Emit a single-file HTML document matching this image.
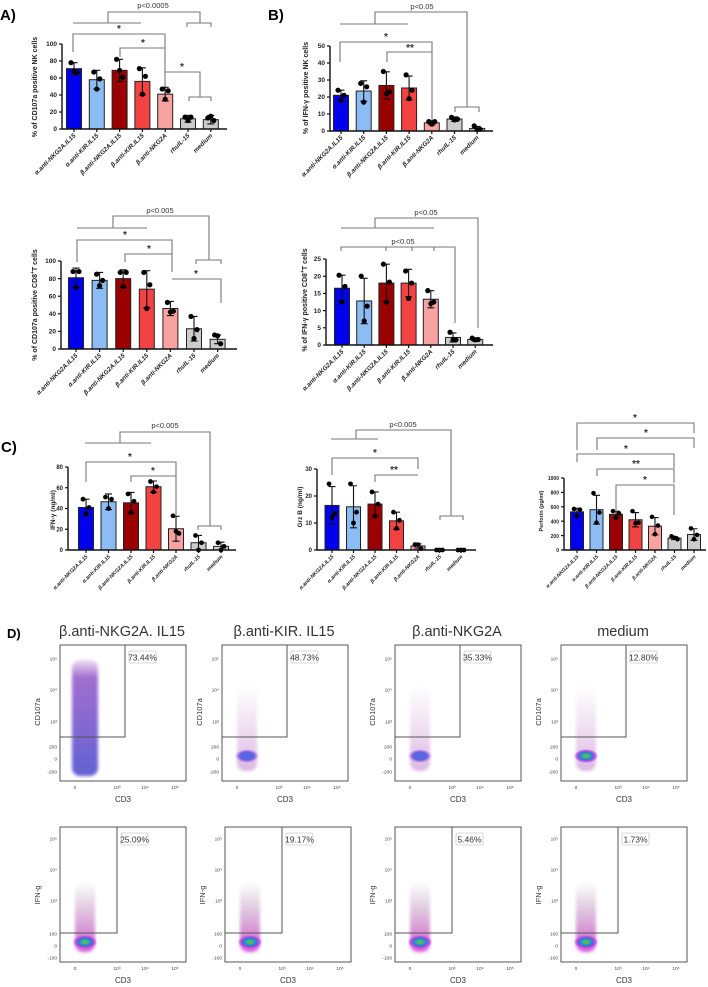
<!DOCTYPE html>
<html><head><meta charset="utf-8">
<style>
html,body{margin:0;padding:0;background:#fff;}
svg{display:block;font-family:"Liberation Sans",Arial,sans-serif;}
</style></head>
<body>
<svg id="fig" width="708" height="987" viewBox="0 0 708 987" xmlns="http://www.w3.org/2000/svg">
<defs>
<radialGradient id="core" cx="50%" cy="50%" r="50%">
<stop offset="0%" stop-color="#c8a000"/><stop offset="25%" stop-color="#20c090"/><stop offset="55%" stop-color="#3a6ee0"/><stop offset="80%" stop-color="#c040e0" stop-opacity="0.8"/><stop offset="100%" stop-color="#c040e0" stop-opacity="0"/>
</radialGradient>
<radialGradient id="coreB" cx="50%" cy="50%" r="50%">
<stop offset="0%" stop-color="#4070e0"/><stop offset="60%" stop-color="#6a60e0"/><stop offset="100%" stop-color="#c060e0" stop-opacity="0"/>
</radialGradient>
<linearGradient id="colStrong" x1="0" y1="0" x2="0" y2="1">
<stop offset="0%" stop-color="#a050c0" stop-opacity="0.2"/><stop offset="15%" stop-color="#8040c0" stop-opacity="0.75"/><stop offset="100%" stop-color="#5050d0" stop-opacity="0.9"/>
</linearGradient>
<linearGradient id="colFaint" x1="0" y1="0" x2="0" y2="1">
<stop offset="0%" stop-color="#c080c0" stop-opacity="0"/><stop offset="100%" stop-color="#b060c0" stop-opacity="0.45"/>
</linearGradient>
<linearGradient id="colMag" x1="0" y1="0" x2="0" y2="1">
<stop offset="0%" stop-color="#806080" stop-opacity="0"/><stop offset="100%" stop-color="#d030d0" stop-opacity="0.8"/>
</linearGradient>
<filter id="blur"><feGaussianBlur stdDeviation="1.5"/></filter>
</defs>
<rect x="0" y="0" width="708" height="987" fill="#fff"/>
<g font-weight="bold" font-size="15" fill="#000">
<text x="0" y="20">A)</text>
<text x="268" y="20">B)</text>
<text x="1" y="452">C)</text>
<text x="7" y="638" font-size="13">D)</text>
</g>
<g id="brackets" stroke="#777" stroke-width="1.1" fill="none">
<!-- A1 -->
<polyline points="73,23 141,23"/><polyline points="108,23 108,12 200,12 200,23"/><polyline points="187,27 187,23 211,23 211,27"/>
<polyline points="73,52 73,34 165,34 165,99"/><polyline points="120,57 120,48 165,48"/>
<polyline points="165,72 200,72 200,97"/><polyline points="189,101 189,97 211,97 211,101"/>
<!-- A2 -->
<polyline points="77,228 147,228"/><polyline points="113,228 113,216 209,216 209,260"/><polyline points="196,264 196,260 221,260 221,264"/>
<polyline points="77,262 77,240 172,240 172,272"/><polyline points="125,262 125,254 172,254"/>
<polyline points="172,279 221,279 221,303"/>
<!-- B1 -->
<polyline points="340,24 408,24"/><polyline points="375,24 375,12 467,12 467,107"/><polyline points="455,112 455,107 479,107 479,112"/>
<polyline points="340,62 340,42 432,42 432,121"/><polyline points="387,62 387,52 432,52"/>
<!-- B2 -->
<polyline points="341,228 434,228"/><polyline points="375,228 375,218 478,218 478,328"/>
<polyline points="341,251 341,247 455,247 455,323"/><polyline points="386,251 386,247"/><polyline points="412,251 412,247"/><polyline points="434,251 434,247"/>
<!-- C1 -->
<polyline points="85,443 151,443"/><polyline points="120,443 120,432 210,432 210,526"/><polyline points="198,530 198,526 221,526 221,530"/>
<polyline points="86,482 86,462 176,462 176,515"/><polyline points="131,482 131,476 176,476"/>
<!-- C2 -->
<polyline points="331,439 378,439"/><polyline points="356,439 356,430 451,430 451,516"/><polyline points="440,520 440,516 463,516 463,520"/>
<polyline points="332,475 332,458 418,458 418,469"/><polyline points="375,482 375,475 418,475"/>
<!-- C3 -->
<polyline points="577,450 577,423 694,423 694,433"/>
<polyline points="597,450 597,438 694,438 694,448"/>
<polyline points="577,462 577,454 674,454 674,468"/>
<polyline points="597,476 597,469 674,469 674,483"/>
<polyline points="616,510 616,485 674,485 674,515"/>
</g>
<g font-size="7.5" fill="#333" text-anchor="middle">
<text x="153" y="8">p&lt;0.0005</text><text x="119" y="32" font-size="10" font-weight="bold">*</text><text x="143" y="46" font-size="10" font-weight="bold">*</text><text x="182" y="70" font-size="10" font-weight="bold">*</text>
<text x="160" y="213">p&lt;0.005</text><text x="125" y="238" font-size="10" font-weight="bold">*</text><text x="149" y="252" font-size="10" font-weight="bold">*</text><text x="196" y="277" font-size="10" font-weight="bold">*</text>
<text x="422" y="9">p&lt;0.05</text><text x="386" y="40" font-size="10" font-weight="bold">*</text><text x="410" y="51" font-size="10" font-weight="bold">**</text>
<text x="426" y="215">p&lt;0.05</text><text x="403" y="244">p&lt;0.05</text>
<text x="165" y="428">p&lt;0.005</text><text x="130" y="460" font-size="10" font-weight="bold">*</text><text x="153" y="474" font-size="10" font-weight="bold">*</text>
<text x="403" y="427">p&lt;0.005</text><text x="375" y="456" font-size="10" font-weight="bold">*</text><text x="394" y="473" font-size="10" font-weight="bold">**</text>
<text x="635" y="421" font-size="10" font-weight="bold">*</text><text x="646" y="436" font-size="10" font-weight="bold">*</text><text x="626" y="452" font-size="10" font-weight="bold">*</text><text x="636" y="467" font-size="10" font-weight="bold">**</text><text x="645" y="483" font-size="10" font-weight="bold">*</text>
</g>
<g id="charts"></g>
<g id="flow"></g>
</svg>
<script>
// ---------- DATA ----------
const categories = ["α.anti-NKG2A.IL15","α.anti-KIR.IL15","β.anti-NKG2A.IL15","β.anti-KIR.IL15","β.anti-NKG2A","rhuIL-15","medium"];
const barColors = ["#0000ee","#8cbcf4","#9a0000","#f24242","#f8a2a2","#cccccc","#cccccc"];

const a1Values = [71,58,69,56,41,12,11];
const a1Err = [7,11,13,16,8,4,5];
const a1Dots = [[78,66,68],[67,59,47],[82,61,69],[71,62,41],[47,45,35],[14,14,10],[13,10,15]];
const a1Ticks = [0,20,40,60,80,100];

const a2Values = [81,78,80,68,46,23,11];
const a2Err = [11,9,10,21,8,14,5];
const a2Dots = [[88,88,70],[85,78,72],[87,87,71],[87,73,46],[53,43,42],[37,22,12],[16,6,15]];
const a2Ticks = [0,20,40,60,80,100];

const b1Values = [21,23.5,26.8,25.3,4.8,7,1.5];
const b1Err = [3,6,8,7,1.2,1.3,1.2];
const b1Dots = [[24,21,18],[28,26,17],[35,23,22],[33,24,19],[5.5,5.5,4],[8,7,6.5],[3,1,0.8]];
const b1Ticks = [0,10,20,30,40,50];

const b2Values = [16.5,12.8,18,18,13.3,2.2,1.6];
const b2Err = [3.8,6.6,5.5,4,2.5,1.3,0.5];
const b2Dots = [[20.3,17,12.5],[20,11.3,7],[23.5,18.3,12.5],[21.5,18,13.5],[15.8,12.5,12],[3.7,1.5,1.5],[2,1.6,1.5]];
const b2Ticks = [0,5,10,15,20,25];

const c1Values = [41,46.5,45.5,61,20.5,7,3.5];
const c1Err = [8,7.5,10,5.5,12,7,4];
const c1Dots = [[49,41,35],[51,49,40],[54,47,36],[66,61,56],[33,16,18],[14,7,0],[7,3.5,0]];
const c1Ticks = [0,20,40,60,80];

const c2Values = [16.5,16,17,10.8,1.5,0,0];
const c2Err = [7,7.8,4.5,3.2,0.8,0,0];
const c2Dots = [[24.5,13.5,12],[24.5,14,10],[21.5,17,12.5],[14,11,8],[2,0.5,2],[0,0,0],[0,0,0]];
const c2Ticks = [0,10,20,30];

const c3Values = [530,560,495,420,330,165,215];
const c3Err = [50,200,45,100,120,20,80];
const c3Dots = [[570,560,470],[790,520,380],[540,510,450],[540,380,370],[460,340,220],[190,150,170],[300,210,150]];
const c3Ticks = [0,200,400,600,800,1000];

// ---------- DRAWING ----------
const NS = "http://www.w3.org/2000/svg";
function mk(tag, attrs, parent){
  const e = document.createElementNS(NS, tag);
  for (const k in attrs) e.setAttribute(k, attrs[k]);
  parent.appendChild(e);
  return e;
}
const charts = document.getElementById('charts');

function drawChart(id, cfg, values, err, dots, ticks){
  const g = mk('g', {}, charts);
  
  
  const max = ticks[ticks.length-1];
  const y = v => cfg.y0 - v / max * (cfg.y0 - cfg.yTop);
  const x = i => cfg.x0 + i * cfg.step;
  // bars
  values.forEach((v, i) => {
    const b = mk('rect', {x: x(i) - cfg.bw/2, y: y(v), width: cfg.bw, height: cfg.y0 - y(v), fill: barColors[i], stroke: '#222', 'stroke-width': 1}, g);
    
    
  });
  // error bars
  values.forEach((v, i) => {
    const hi = y(v + err[i]), lo = y(Math.max(0, v - err[i]));
    const e = mk('path', {d: `M${x(i)},${hi}V${lo}M${x(i)-3.5},${hi}H${x(i)+3.5}M${x(i)-3.5},${lo}H${x(i)+3.5}`, stroke: '#111', 'stroke-width': 1.1, fill: 'none'}, g);
    
    
  });
  // dots
  dots.forEach((arr, i) => {
    arr.forEach((v, j) => {
      const off = [-3, 3, 0][j];
      const d = mk('circle', {cx: x(i) + off, cy: y(v), r: cfg.dr, fill: '#000'}, g);
      
      
    });
  });
  // axes
  const ax = mk('path', {d: `M${cfg.ax},${cfg.yTop}V${cfg.y0}H${cfg.axEnd}`, stroke: '#111', 'stroke-width': 1.4, fill: 'none'}, g);
  
  
  ticks.forEach(t => {
    const tk = mk('line', {x1: cfg.ax - 3, x2: cfg.ax, y1: y(t), y2: y(t), stroke: '#111', 'stroke-width': 1.2}, g);
    
    
    const tl = mk('text', {x: cfg.ax - 5, y: y(t) + 2.2, 'font-size': cfg.fs, 'font-weight': 'bold', 'text-anchor': 'end', fill: '#222'}, g);
    tl.textContent = t;
    
    
  });
  categories.forEach((c, i) => {
    const tk = mk('line', {x1: x(i), x2: x(i), y1: cfg.y0, y2: cfg.y0 + 3, stroke: '#111', 'stroke-width': 1.2}, g);
    
    
    const lx = x(i) + 2, ly = cfg.y0 + 7;
    const tl = mk('text', {x: lx, y: ly, 'font-size': cfg.lfs, 'font-weight': 'bold', 'font-style': 'italic', 'text-anchor': 'end', fill: '#222', transform: `rotate(-45 ${lx} ${ly})`}, g);
    tl.textContent = c;
    
    
  });
  const yt = mk('text', {x: cfg.tx, y: cfg.ty, 'font-size': cfg.fs + 0.5, 'font-weight': 'bold', 'text-anchor': 'middle', fill: '#222', transform: `rotate(-90 ${cfg.tx} ${cfg.ty})`}, g);
  yt.innerHTML = cfg.title;
  
  
}

drawChart('a1', {x0:74, step:22.8, bw:15, y0:129, yTop:44, ax:62, axEnd:227, dr:2.6, fs:6.5, lfs:6.3, tx:37, ty:87, title:'% of CD107a positive NK cells'}, a1Values, a1Err, a1Dots, a1Ticks);
drawChart('a2', {x0:76, step:23.6, bw:15, y0:349, yTop:261, ax:61, axEnd:237, dr:2.6, fs:6.5, lfs:6.3, tx:37, ty:305, title:'% of CD107a positive CD8<tspan baseline-shift="super" font-size="5">+</tspan>T cells'}, a2Values, a2Err, a2Dots, a2Ticks);
drawChart('b1', {x0:341, step:22.7, bw:15, y0:131, yTop:46, ax:330, axEnd:493, dr:2.6, fs:6.5, lfs:6.3, tx:308, ty:88, title:'% of IFN-γ positive NK cells'}, b1Values, b1Err, b1Dots, b1Ticks);
drawChart('b2', {x0:342, step:22.2, bw:15, y0:345, yTop:259, ax:326, axEnd:493, dr:2.6, fs:6.5, lfs:6.3, tx:307, ty:300, title:'% of IFN-γ positive CD8<tspan baseline-shift="super" font-size="5">+</tspan>T cells'}, b2Values, b2Err, b2Dots, b2Ticks);
drawChart('c1', {x0:86, step:22.5, bw:15, y0:550, yTop:467, ax:68, axEnd:236, dr:2.4, fs:6, lfs:5.3, tx:55, ty:510, title:'IFN-γ (ng/ml)'}, c1Values, c1Err, c1Dots, c1Ticks);
drawChart('c2', {x0:332, step:21.5, bw:14, y0:550, yTop:469, ax:317, axEnd:476, dr:2.4, fs:6, lfs:5.3, tx:302, ty:507, title:'Grz B (ng/ml)'}, c2Values, c2Err, c2Dots, c2Ticks);
drawChart('c3', {x0:577, step:19.5, bw:13, y0:550, yTop:478, ax:564, axEnd:706, dr:2.3, fs:5, lfs:5, tx:543, ty:511, title:'Perforin (pg/ml)'}, c3Values, c3Err, c3Dots, c3Ticks);

// ---------- FLOW PLOTS ----------
const flowTitles = ["β.anti-NKG2A. IL15","β.anti-KIR. IL15","β.anti-NKG2A","medium"];
const flowPct1 = ["73.44%","48.73%","35.33%","12.80%"];
const flowPct2 = ["25.09%","19.17%","5.46%","1.73%"];
const flowLefts = [60, 222, 395, 561];
const flow = document.getElementById('flow');

flowTitles.forEach((t, i) => {
  const tt = mk('text', {x: flowLefts[i] + 62, y: 636, 'font-size': 14.5, 'text-anchor': 'middle', fill: '#333'}, flow);
  tt.textContent = t;
  
  
});

function flowPlot(row, i){
  const L = flowLefts[i] + (row === 2 && i < 2 ? [0,3][i] : 0);
  const W = 126;
  const top = row === 1 ? 645 : 827, bot = row === 1 ? 781 : 962;
  const gateB = row === 1 ? 737 : 933;
  const gateW = row === 1 ? 65 : 57;
  const g = mk('g', {}, flow);
  
  
  // cloud
  const cx = L + 25;
  if (row === 1 && i === 0) {
    const c = mk('rect', {x: cx - 13, y: top + 15, width: 26, height: bot - top - 20, rx: 8, fill: 'url(#colStrong)', filter: 'url(#blur)'}, g);
    
    
  } else {
    const colTop = row === 1 ? top + 40 : top + 55;
    const c = mk('rect', {x: cx - 10, y: colTop, width: 20, height: bot - colTop - 10, rx: 8, fill: row === 2 ? 'url(#colMag)' : 'url(#colFaint)', filter: 'url(#blur)'}, g);
    
    
    const core = mk('ellipse', {cx: cx, cy: row === 1 ? bot - 25 : bot - 20, rx: 12, ry: 7, fill: (row === 1 && i < 3) ? 'url(#coreB)' : 'url(#core)'}, g);
    
    
  }
  const box = mk('rect', {x: L, y: top, width: W, height: bot - top, fill: 'none', stroke: '#555', 'stroke-width': 1}, g);
  
  
  const gate = mk('path', {d: `M${L},${gateB}H${L + gateW}V${top}`, fill: 'none', stroke: '#555', 'stroke-width': 1}, g);
  
  
  const pct = row === 1 ? flowPct1[i] : flowPct2[i];
  const pb = mk('rect', {x: L + gateW + 4, y: top + 6, width: 27, height: 12, fill: '#fff', stroke: '#ccc', 'stroke-width': 0.8, rx: 1.5}, g);
  
  
  const pt = mk('text', {x: L + gateW + 17.5, y: top + 15.5, 'font-size': 8.5, 'text-anchor': 'middle', fill: '#333'}, g);
  pt.textContent = pct;
  
  
  // y ticks
  const yl = row === 1 ? [["10⁵",659],["10⁴",690],["10³",722],["200",747],["0",759],["-200",772]]
                       : [["10⁵",839],["10⁴",870],["10³",901],["100",934],["0",946],["-100",958]];
  yl.forEach(([s, yy]) => {
    const t = mk('text', {x: L - 3, y: yy + 1.5, 'font-size': 4.8, 'text-anchor': 'end', fill: '#444'}, g);
    t.textContent = s;
    
    
  });
  [["0",15],["10³",57],["10⁴",85],["10⁵",115]].forEach(([s, dx]) => {
    const t = mk('text', {x: L + dx, y: bot + 8, 'font-size': 4.8, 'text-anchor': 'middle', fill: '#444'}, g);
    t.textContent = s;
    
    
  });
  const xt = mk('text', {x: L + 63, y: bot + 21, 'font-size': 8, 'text-anchor': 'middle', fill: '#333'}, g);
  xt.textContent = 'CD3';
  
  
  const ty = row === 1 ? 712 : 895, tx = L - 20;
  const yt = mk('text', {x: tx, y: ty, 'font-size': 7.5, 'text-anchor': 'middle', fill: '#333', transform: `rotate(-90 ${tx} ${ty})`}, g);
  yt.textContent = row === 1 ? 'CD107a' : 'IFN-g';
  
  
}
[0,1,2,3].forEach(i => flowPlot(1, i));
[0,1,2,3].forEach(i => flowPlot(2, i));
</script>
</body></html>
